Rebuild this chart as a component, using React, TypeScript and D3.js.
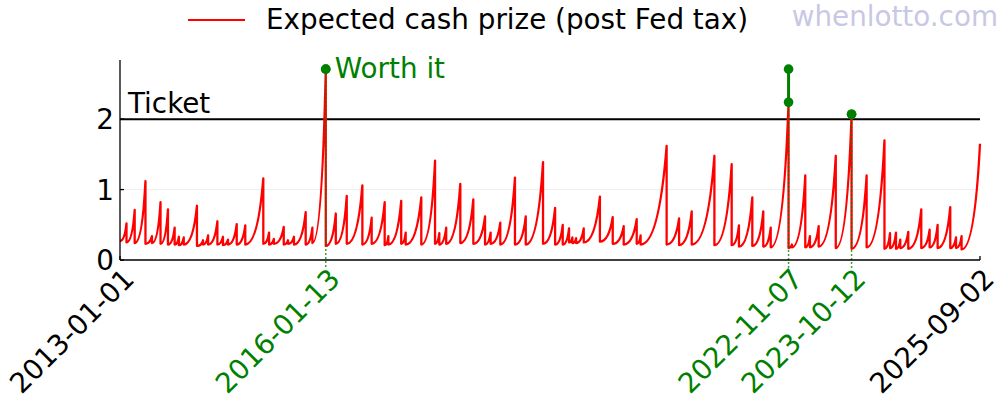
import React from "react";
import * as d3 from "d3";

// ---- data ----
const seriesStart = "2013-01-01";
const seriesEnd = "2025-09-02";
const startValue = 0.27;
const endValue = 1.65;

const peakDates = [
  "2013-02-05", "2013-03-21", "2013-05-18", "2013-06-22", "2013-08-07", "2013-09-16", "2013-10-22", "2013-11-14", "2013-12-10",
  "2014-02-19", "2014-03-24", "2014-04-20", "2014-06-09", "2014-07-09", "2014-08-05", "2014-09-21", "2014-11-06",
  "2015-02-11", "2015-03-14", "2015-04-09", "2015-06-01", "2015-06-24", "2015-07-26", "2015-09-27", "2015-11-02",
  "2016-01-13", "2016-03-07", "2016-05-05", "2016-07-28", "2016-09-16", "2016-11-25", "2016-12-15",
  "2017-02-22", "2017-03-18", "2017-06-10", "2017-08-23", "2017-09-15", "2017-10-22",
  "2018-01-06", "2018-03-17", "2018-05-19", "2018-06-18", "2018-08-09", "2018-10-27", "2018-12-24",
  "2019-03-27", "2019-05-31", "2019-07-11", "2019-08-14", "2019-09-01", "2019-09-21", "2019-11-01",
  "2020-01-27", "2020-04-05", "2020-06-03", "2020-08-12", "2020-09-02",
  "2021-01-20", "2021-03-28", "2021-06-04", "2021-10-04",
  "2022-01-05", "2022-02-13", "2022-04-26", "2022-06-24", "2022-08-03", "2022-11-07", "2022-11-25",
  "2023-02-05", "2023-03-02", "2023-04-18", "2023-07-19", "2023-10-12",
  "2024-01-01", "2024-04-06", "2024-05-06", "2024-06-07", "2024-06-30", "2024-08-12", "2024-10-21", "2024-12-05",
  "2025-01-17", "2025-03-26", "2025-04-26", "2025-05-26",
];

const peakValues = [
  0.52, 0.71, 1.12, 0.34, 0.82, 0.72, 0.46, 0.33, 0.32,
  0.77, 0.28, 0.35, 0.55, 0.33, 0.29, 0.51, 0.49,
  1.16, 0.39, 0.30, 0.47, 0.28, 0.33, 0.68, 0.46,
  2.69, 0.66, 0.91, 1.06, 0.60, 0.82, 0.34,
  0.84, 0.39, 0.89, 1.41, 0.38, 0.46,
  1.08, 0.86, 0.62, 0.39, 0.53, 1.17, 0.62,
  1.39, 0.74, 0.50, 0.45, 0.32, 0.31, 0.45,
  0.90, 0.61, 0.48, 0.58, 0.35,
  1.62, 0.59, 0.69, 1.48,
  1.36, 0.49, 0.89, 0.69, 0.46, 2.23, 0.22,
  1.20, 0.34, 0.48, 1.48, 2.06,
  1.20, 1.70, 0.38, 0.39, 0.29, 0.40, 0.72, 0.43,
  0.50, 0.75, 0.32, 0.34,
];

// value right after the jackpot resets following each peak
const resetValues = [
  0.25, 0.24, 0.23, 0.24, 0.23, 0.22, 0.22, 0.21, 0.22,
  0.20, 0.22, 0.22, 0.22, 0.21, 0.22, 0.22, 0.22,
  0.23, 0.22, 0.23, 0.22, 0.23, 0.22, 0.22, 0.24,
  0.20, 0.23, 0.23, 0.22, 0.23, 0.21, 0.22,
  0.23, 0.22, 0.22, 0.23, 0.22, 0.23,
  0.24, 0.23, 0.22, 0.23, 0.22, 0.22, 0.22,
  0.23, 0.22, 0.22, 0.25, 0.24, 0.24, 0.25,
  0.26, 0.23, 0.22, 0.23, 0.22,
  0.22, 0.21, 0.22, 0.21,
  0.21, 0.19, 0.20, 0.19, 0.18, 0.17, 0.18,
  0.18, 0.18, 0.19, 0.17, 0.16,
  0.18, 0.16, 0.17, 0.16, 0.17, 0.16, 0.17, 0.18,
  0.17, 0.17, 0.17, 0.15,
];

const worthItDates = ["2016-01-13", "2022-11-07", "2023-10-12"];
const worthItLow = [2.71, 2.24, 2.07];
const worthItHigh = [2.71, 2.71, 2.07];

const yTicks = [0, 1, 2];
const ticketPrice = 2;
const yMax = 2.84;
const edgeTickDates = ["2013-01-01", "2025-09-02"];

// ---- layout ----
const W = 1000;
const H = 400;
const plot = { left: 120, right: 980, top: 60, bottom: 260 };
const FONT = "DejaVu Sans, sans-serif";
const FS = 27.8;
const GREEN = "#008000";

const parse = d3.timeParse("%Y-%m-%d");

export default function App() {
  const x = d3
    .scaleTime()
    .domain([parse(seriesStart)!, parse(seriesEnd)!])
    .range([plot.left, plot.right]);
  const y = d3.scaleLinear().domain([0, yMax]).range([plot.bottom, plot.top]);

  // sawtooth path: each run-up is a convex rise followed by a vertical drop
  const k = 0.7;
  const p = d3.path();
  let x0 = x(parse(seriesStart)!);
  let y0 = y(startValue);
  p.moveTo(x0, y0);
  peakDates.forEach((d, i) => {
    const x1 = x(parse(d)!);
    const y1 = y(peakValues[i]);
    p.quadraticCurveTo(x0 + k * (x1 - x0), y0, x1, y1);
    x0 = x1;
    y0 = y(resetValues[i]);
    p.lineTo(x0, y0);
  });
  {
    const x1 = x(parse(seriesEnd)!);
    const y1 = y(endValue);
    p.quadraticCurveTo(x0 + k * (x1 - x0), y0, x1, y1);
  }

  const labelY = plot.bottom + 5;
  const xLabels = [
    ...edgeTickDates.map((d) => ({ d, color: "#000" })),
    ...worthItDates.map((d) => ({ d, color: GREEN })),
  ];

  return (
    <svg
      width={W}
      height={H}
      viewBox={`0 0 ${W} ${H}`}
      style={{ position: "absolute", left: 0, top: 0, background: "#fff" }}
      fontFamily={FONT}
    >
      <rect width={W} height={H} fill="#fff" />

      {/* watermark */}
      <text x={998} y={26} fontSize={FS} fill="#c8c8e4" textAnchor="end">
        whenlotto.com
      </text>

      {/* legend */}
      <line x1={188} x2={245} y1={20} y2={20} stroke="#ff0000" strokeWidth={2.2} />
      <text x={266} y={29} fontSize={FS} fill="#000">
        Expected cash prize (post Fed tax)
      </text>

      {/* grid */}
      {yTicks.map((t) => (
        <line key={"g" + t} x1={plot.left} x2={plot.right} y1={y(t)} y2={y(t)} stroke="#eeeeee" strokeWidth={1} />
      ))}

      {/* ticket line */}
      <line
        x1={plot.left}
        x2={plot.right}
        y1={y(ticketPrice)}
        y2={y(ticketPrice)}
        stroke="#000"
        strokeWidth={2}
      />
      <text x={plot.left + 8} y={y(ticketPrice) - 6} fontSize={FS} fill="#000">
        Ticket
      </text>

      {/* series */}
      <path d={p.toString()} fill="none" stroke="#ff0000" strokeWidth={2.3} strokeLinejoin="round" />

      {/* worth-it markers */}
      {worthItDates.map((d, i) => {
        const cx = x(parse(d)!);
        return (
          <g key={"w" + d}>
            <line
              x1={cx}
              x2={cx}
              y1={y(worthItLow[i])}
              y2={plot.bottom + 8}
              stroke={GREEN}
              strokeWidth={1.5}
              strokeDasharray="1.5,2.5"
            />
            {worthItHigh[i] > worthItLow[i] && (
              <line x1={cx} x2={cx} y1={y(worthItHigh[i])} y2={y(worthItLow[i])} stroke={GREEN} strokeWidth={3} />
            )}
            <circle cx={cx} cy={y(worthItLow[i])} r={4.8} fill={GREEN} />
            <circle cx={cx} cy={y(worthItHigh[i])} r={4.8} fill={GREEN} />
          </g>
        );
      })}
      <text x={x(parse(worthItDates[0])!) + 9} y={y(worthItHigh[0]) + 9} fontSize={FS} fill={GREEN}>
        Worth it
      </text>

      {/* axes */}
      <line x1={plot.left} x2={plot.left} y1={plot.top} y2={plot.bottom} stroke="#000" strokeWidth={1.3} />
      <line x1={plot.left} x2={plot.right} y1={plot.bottom} y2={plot.bottom} stroke="#000" strokeWidth={1.3} />
      {yTicks.map((t) => (
        <g key={"yt" + t}>
          <line x1={plot.left} x2={plot.left + 4} y1={y(t)} y2={y(t)} stroke="#000" strokeWidth={1.3} />
          <text x={plot.left - 6} y={y(t)} dy="0.36em" textAnchor="end" fontSize={FS} fill="#000">
            {t}
          </text>
        </g>
      ))}
      {edgeTickDates.map((d) => (
        <line
          key={"xt" + d}
          x1={x(parse(d)!)}
          x2={x(parse(d)!)}
          y1={plot.bottom}
          y2={plot.bottom - 4}
          stroke="#000"
          strokeWidth={1.3}
        />
      ))}
      {xLabels.map(({ d, color }) => {
        const tx = x(parse(d)!);
        return (
          <text
            key={"xl" + d}
            x={tx}
            y={labelY}
            dy="0.8em"
            textAnchor="end"
            fontSize={FS}
            fill={color}
            transform={`rotate(-45, ${tx}, ${labelY})`}
          >
            {d}
          </text>
        );
      })}
    </svg>
  );
}
